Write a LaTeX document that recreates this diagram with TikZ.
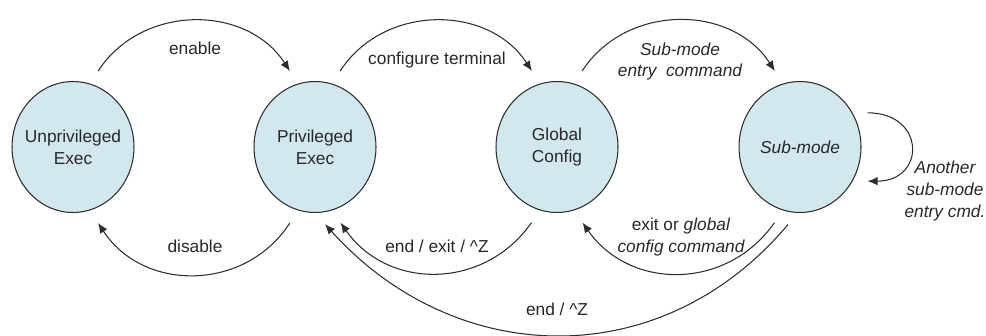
\documentclass[tikz,border=0pt]{standalone}
\usepackage{xcolor}
\usepackage{fontspec}
\setmainfont{Liberation Sans}
\usepackage{tikz}
\usetikzlibrary{shapes.geometric, arrows.meta, positioning}
\definecolor{modefill}{RGB}{210,231,238}
\definecolor{modeline}{RGB}{45,45,45}
\definecolor{labeltext}{RGB}{40,40,40}

\begin{document}
\begin{tikzpicture}[
    x=0.02cm, y=0.02cm,
    state/.style={ellipse, draw=modeline, fill=modefill, line width=0.6pt, minimum width=2.44cm, minimum height=2.62cm, inner xsep=-0.4cm, inner ysep=0pt, align=center, text=labeltext, font=\fontsize{9.85}{12.5}\selectfont},
    trans/.style={-{Latex[length=2mm, width=1.7mm]}, draw=modeline, line width=0.6pt, shorten <=0.3cm, shorten >=0.3cm},
    lbl/.style={anchor=base, align=center, text=labeltext, inner sep=0pt, font=\fontsize{9.85}{12.5}\selectfont}
]
    \useasboundingbox (0,0) rectangle (986,335);

    % Modes
    \node[state] (unpriv) at (73,188) {Unprivileged\\Exec};
    \node[state] (priv) at (315,188) {Privileged\\Exec};
    \node[state] (glob) at (557,188) {Global\\Config};
    \node[state] (sub) at (800,188) {\itshape Sub-mode};

    % Upper arcs
    \draw[trans] (unpriv.75) to[out=57, in=123, looseness=1.17] (priv.105);
    \draw[trans] (priv.75) to[out=57, in=123, looseness=1.17] (glob.105);
    \draw[trans] (glob.75) to[out=57, in=123, looseness=1.17] (sub.105);

    % Lower arcs
    \draw[trans] (priv.255) to[out=237, in=303, looseness=1.2] (unpriv.285);
    \draw[trans] (glob.255) to[out=235, in=305, looseness=1.2] (priv.285);
    \draw[trans] (sub.255) to[out=235, in=305, looseness=1.2] (glob.285);
    \draw[trans] (sub.268) to[out=230, in=312, looseness=1.12] (priv.270);

    % Self loop
    \draw[trans] (sub.33) to[out=0, in=0, looseness=2.75] (sub.-33);

    % Labels (base = last line)
    \node[lbl] (lenable) at (195,280) {enable};
    \node[lbl] (ldisable) at (195,83) {disable};
    \node[lbl] (lconf) at (437,270) {configure terminal};
    \node[lbl] (lentry) at (680,258) {\itshape Sub-mode\\\itshape entry\ \ command};
    \node[lbl] (lend) at (437,83) {end / exit / \textasciicircum Z};
    \node[lbl] (lexit) at (681,83) {exit or \textit{global}\\\itshape config command};
    \node[lbl] (lendz) at (557,20) {end / \textasciicircum Z};
    \node[lbl] (lanother) at (945,118) {\itshape Another\\\itshape sub-mode\\\itshape entry cmd.};
\end{tikzpicture}
\end{document}
